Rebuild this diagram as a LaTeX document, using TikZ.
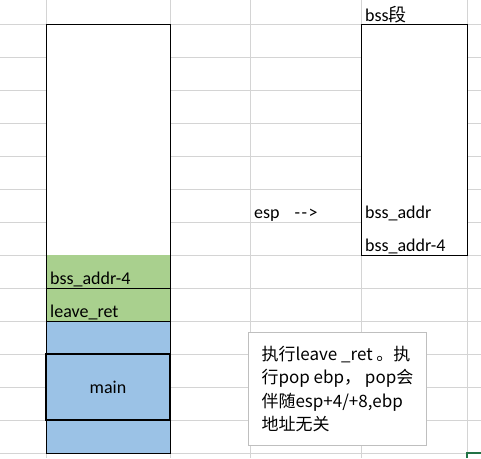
\documentclass[tikz,border=0pt]{standalone}
\usepackage{fontspec}
\setmainfont{Carlito}
\newfontfamily\cjk{Noto Sans CJK SC}
\usetikzlibrary{positioning}
\definecolor{gridgray}{RGB}{212,212,212}
\definecolor{notegray}{RGB}{191,191,191}
\definecolor{cellgreen}{RGB}{169,208,142}
\definecolor{cellblue}{RGB}{155,194,230}
\definecolor{selgreen}{RGB}{33,115,70}
\tikzset{
  gridline/.style  = {draw=gridgray, line width=0.9pt},
  slot/.style      = {rectangle, minimum width=124pt, minimum height=33pt,
                      inner sep=0pt, outer sep=0pt},
  celltext/.style  = {font=\fontsize{18}{20}\selectfont, inner sep=0pt,
                      anchor=base west},
  note/.style      = {rectangle, draw=notegray, fill=white, line width=0.9pt,
                      minimum width=178pt, minimum height=113pt,
                      inner xsep=0pt, align=left,
                      font=\cjk\fontsize{17}{23.5}\selectfont}
}

\begin{document}
\begin{tikzpicture}[x=1pt, y=-1pt]
  \useasboundingbox (0,0) rectangle (481,458);

  % sheet grid
  \foreach \gy in {24,57,...,453}
    \draw[gridline] (0,\gy) -- (481,\gy);
  \foreach \gx in {46,170,250,361,467}
    \draw[gridline] (\gx,0) -- (\gx,458);

  % stack
  \node[slot, fill=white, minimum height=231pt] (free) at (108,139.5) {};
  \node[slot, fill=cellgreen] (bssslot) at (108,271.5) {};
  \node[slot, fill=cellgreen] (retslot) at (108,304.5) {};
  \node[slot, fill=cellblue] (blueA) at (108,337.5) {};
  \node[slot, fill=cellblue, minimum height=66pt,
        font=\fontsize{18}{20}\selectfont] (mainslot) at (108,387) {main};
  \node[slot, fill=cellblue] (blueB) at (108,436.5) {};
  \draw[line width=0.9pt] (free.north west) rectangle (blueB.south east);
  \draw[line width=0.9pt] (bssslot.south west) -- (bssslot.south east);
  \draw[line width=0.9pt] (retslot.south west) -- (retslot.south east);
  \draw[line width=2pt] (mainslot.north west) rectangle (mainslot.south east);
  \node[celltext] (bsslbl) at ([xshift=4pt,yshift=4pt]bssslot.south west) {bss\_addr-4};
  \node[celltext] (retlbl) at ([xshift=4pt,yshift=4pt]retslot.south west) {leave\_ret};

  % bss segment
  \node[slot, draw, fill=white, line width=0.9pt, minimum width=106pt,
        minimum height=231pt] (bss) at (414,139.5) {};
  \node[celltext] (bsstitle) at ([xshift=4pt,yshift=3pt]bss.north west) {bss{\cjk 段}};
  \node[celltext] (bssaddr) at (365,218) {bss\_addr};
  \node[celltext] (bssaddrm) at (365,251) {bss\_addr-4};
  \node[celltext] (esp) at (254,218) {esp\hspace{15pt}-\kern1.5pt-\kern1.5pt>};

  % comment
  \node[note, anchor=north west] (remark) at (248,332)
    {执行leave \_ret 。执\\行pop ebp， pop会\\伴随esp+4/+8,ebp\\地址无关};

  % selected cell
  \draw[selgreen, line width=2pt] (467,458) -- (467,453) -- (481,453);
\end{tikzpicture}
\end{document}
